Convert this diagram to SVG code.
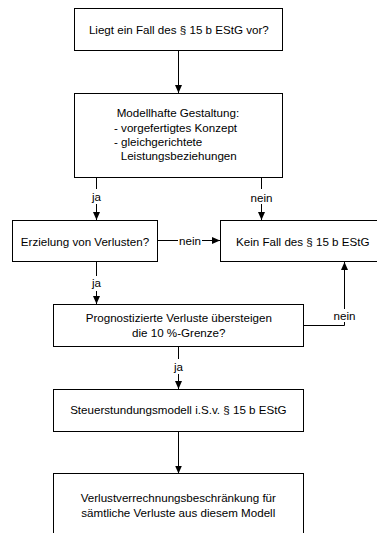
<svg xmlns="http://www.w3.org/2000/svg" width="377" height="533" viewBox="0 0 377 533">
<style>
  .box { fill: #fff; stroke: #000; stroke-width: 1; }
  .t { font-family: "Liberation Sans", Arial, sans-serif; font-size: 11.6px; fill: #000; }
  .c { text-anchor: middle; }
  .ln { fill: none; stroke: #000; stroke-width: 1; }
</style>
<defs>
  <marker id="ah" markerUnits="userSpaceOnUse" markerWidth="8" markerHeight="8" viewBox="0 0 8 8" refX="8" refY="4" orient="auto">
    <path d="M0,0.5 L8,4 L0,7.5 Z" fill="#000"/>
  </marker>
</defs>
<rect width="377" height="533" fill="#fff"/>
<g id="connectors">
  <path class="ln" d="M178.5,50.5 V93" marker-end="url(#ah)"/>
  <path class="ln" d="M96.5,177.5 V189 M96.5,204 V220" marker-end="url(#ah)"/>
  <text class="t c" x="96.5" y="201">ja</text>
  <path class="ln" d="M261.5,177.5 V189 M261.5,204 V220" marker-end="url(#ah)"/>
  <text class="t c" x="261.5" y="201.5">nein</text>
  <path class="ln" d="M157.5,240.5 H178 M202,240.5 H220" marker-end="url(#ah)"/>
  <text class="t c" x="190" y="244.5">nein</text>
  <path class="ln" d="M96.5,261.5 V276 M96.5,291 V304" marker-end="url(#ah)"/>
  <text class="t c" x="96.5" y="287">ja</text>
  <path class="ln" d="M303.5,325.5 H344.5 V322 M344.5,309 V262" marker-end="url(#ah)"/>
  <text class="t c" x="344.5" y="320">nein</text>
  <path class="ln" d="M178.5,346.5 V359 M178.5,374 V389" marker-end="url(#ah)"/>
  <text class="t c" x="178.5" y="371">ja</text>
  <path class="ln" d="M178.5,431.5 V473.5" marker-end="url(#ah)"/>
</g>
<g id="n1">
  <rect class="box" x="74.5" y="8.5" width="208" height="42"/>
  <text class="t c" x="178.8" y="34">Liegt ein Fall des § 15 b EStG vor?</text>
</g>
<g id="n2">
  <rect class="box" x="74.5" y="93.5" width="208" height="84"/>
  <text class="t" x="116.7" y="117.3">Modellhafte Gestaltung:</text>
  <text class="t" x="114" y="131.5">- vorgefertigtes Konzept</text>
  <text class="t" x="114" y="145.7">- gleichgerichtete</text>
  <text class="t" x="120.7" y="159.9">Leistungsbeziehungen</text>
</g>
<g id="n3">
  <rect class="box" x="12.5" y="220.5" width="145" height="41"/>
  <text class="t c" x="85" y="246">Erzielung von Verlusten?</text>
</g>
<g id="n4">
  <rect class="box" x="220.5" y="220.5" width="170" height="41"/>
  <text class="t c" x="302.8" y="246">Kein Fall des § 15 b EStG</text>
</g>
<g id="n5">
  <rect class="box" x="53.5" y="304.5" width="250" height="42"/>
  <text class="t c" x="178.8" y="322">Prognostizierte Verluste übersteigen</text>
  <text class="t c" x="178.8" y="336.5">die 10 %-Grenze?</text>
</g>
<g id="n6">
  <rect class="box" x="53.5" y="389.5" width="250" height="42"/>
  <text class="t c" x="178.3" y="414.3">Steuerstundungsmodell i.S.v. § 15 b EStG</text>
</g>
<g id="n7">
  <rect class="box" x="53.5" y="473.5" width="250" height="80"/>
  <text class="t c" x="178.3" y="501.7">Verlustverrechnungsbeschränkung für</text>
  <text class="t c" x="178.3" y="516.7">sämtliche Verluste aus diesem Modell</text>
</g>
</svg>
